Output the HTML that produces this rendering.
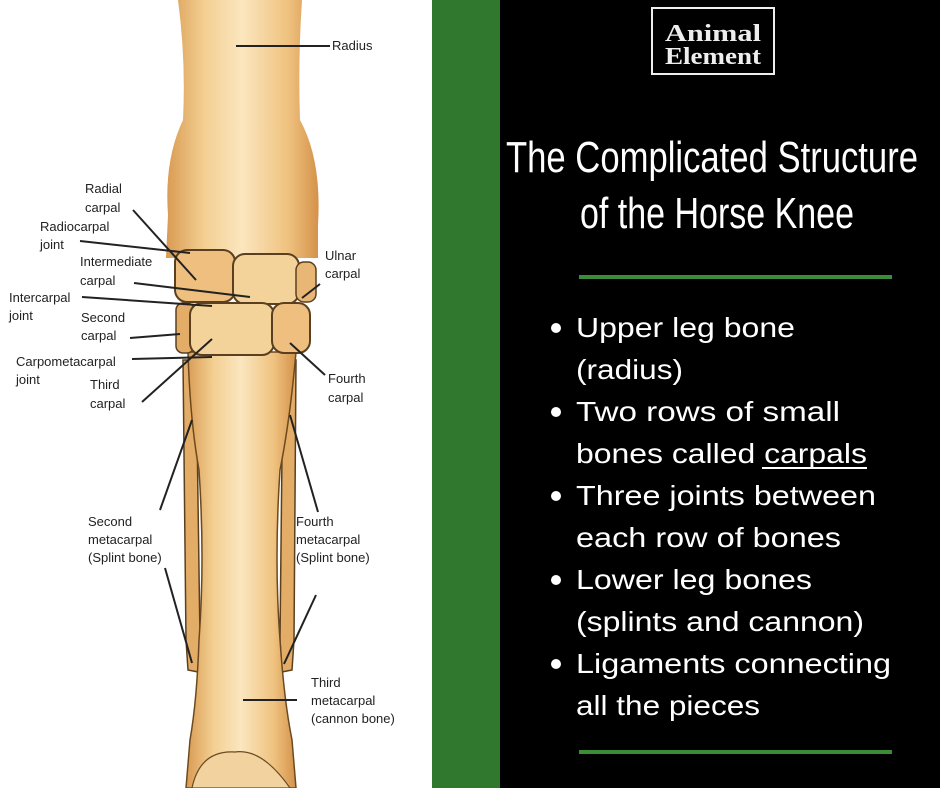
<!DOCTYPE html>
<html><head><meta charset="utf-8"><style>
html,body{margin:0;padding:0;width:940px;height:788px;overflow:hidden;background:#fff}
svg{display:block}
.l{font-family:"Liberation Sans",sans-serif;font-size:13px;fill:#222}
.t{font-family:"Liberation Sans",sans-serif;font-size:44px;fill:#fff}
.b{font-family:"Liberation Sans",sans-serif;font-size:28px;fill:#fff}
</style></head><body>
<svg width="940" height="788" viewBox="0 0 940 788" xmlns="http://www.w3.org/2000/svg">
<defs>
<linearGradient id="bone" x1="0" x2="1" y1="0" y2="0">
<stop offset="0" stop-color="#d99a52"/><stop offset="0.25" stop-color="#f3cf92"/>
<stop offset="0.5" stop-color="#fbe6bf"/><stop offset="0.8" stop-color="#efc27f"/>
<stop offset="1" stop-color="#d4924a"/></linearGradient>
</defs>
<rect x="0" y="0" width="432" height="788" fill="#fff"/>
<rect x="432" y="0" width="68" height="788" fill="#31782f"/>
<rect x="500" y="0" width="440" height="788" fill="#000"/>

<!-- splints -->
<path d="M183 360 L196 360 L200 640 L198 672 L188 670 L186 640 Z" fill="#e3ad68" stroke="#5a4020" stroke-width="1.5"/>
<path d="M296 360 L283 360 L280 640 L282 672 L292 670 L294 640 Z" fill="#e3ad68" stroke="#5a4020" stroke-width="1.5"/>
<!-- cannon -->
<path d="M188 352 L296 352 Q290 420 280 470 Q274 560 280 640 Q284 700 292 740 L296 788 L186 788 L190 740 Q197 700 199 640 Q205 560 199 470 Q190 420 188 352 Z" fill="url(#bone)" stroke="#6b4a20" stroke-width="1.5"/>
<path d="M192 788 Q200 750 235 752 Q262 748 290 788 Z" fill="#f2d3a0" stroke="#6b4a20" stroke-width="1.2"/>
<!-- radius -->
<path d="M178 0 L302 0 Q298 60 300 120 Q322 160 318 225 L318 258 L166 258 L168 215 Q164 160 183 120 Q186 60 178 0 Z" fill="url(#bone)"/>
<!-- carpals row 1 -->
<rect x="175" y="250" width="60" height="52" rx="12" fill="#eebf7e" stroke="#5a4020" stroke-width="2"/>
<rect x="233" y="254" width="66" height="50" rx="12" fill="#f4d39a" stroke="#5a4020" stroke-width="2"/>
<rect x="296" y="262" width="20" height="40" rx="8" fill="#e9b775" stroke="#5a4020" stroke-width="1.5"/>
<!-- carpals row 2 -->
<rect x="176" y="303" width="18" height="50" rx="7" fill="#e3ad68" stroke="#5a4020" stroke-width="1.5"/>
<rect x="190" y="303" width="84" height="52" rx="12" fill="#f4d39a" stroke="#5a4020" stroke-width="2"/>
<rect x="272" y="303" width="38" height="50" rx="12" fill="#eebf7e" stroke="#5a4020" stroke-width="2"/>

<!-- leader lines -->
<g stroke="#222" stroke-width="2" fill="none">
<line x1="236" y1="46" x2="330" y2="46"/>
<line x1="133" y1="210" x2="196" y2="280"/>
<line x1="80" y1="241" x2="190" y2="253"/>
<line x1="134" y1="283" x2="250" y2="297"/>
<line x1="82" y1="297" x2="212" y2="306"/>
<line x1="130" y1="338" x2="180" y2="334"/>
<line x1="132" y1="359" x2="212" y2="357"/>
<line x1="142" y1="402" x2="212" y2="339"/>
<line x1="320" y1="284" x2="302" y2="298"/>
<line x1="325" y1="375" x2="290" y2="343"/>
<line x1="160" y1="510" x2="192" y2="420"/>
<line x1="165" y1="568" x2="192" y2="663"/>
<line x1="318" y1="512" x2="290" y2="415"/>
<line x1="316" y1="595" x2="284" y2="664"/>
<line x1="243" y1="700" x2="297" y2="700"/>
</g>

<g class="l">
<text x="332" y="50">Radius</text>
<text x="85" y="193">Radial</text><text x="85" y="212">carpal</text>
<text x="40" y="231">Radiocarpal</text><text x="40" y="249">joint</text>
<text x="80" y="266">Intermediate</text><text x="80" y="285">carpal</text>
<text x="9" y="302">Intercarpal</text><text x="9" y="320">joint</text>
<text x="81" y="322">Second</text><text x="81" y="340">carpal</text>
<text x="16" y="366">Carpometacarpal</text><text x="16" y="384">joint</text>
<text x="90" y="389">Third</text><text x="90" y="408">carpal</text>
<text x="325" y="260">Ulnar</text><text x="325" y="278">carpal</text>
<text x="328" y="383">Fourth</text><text x="328" y="402">carpal</text>
<text x="88" y="526">Second</text><text x="88" y="544">metacarpal</text><text x="88" y="562">(Splint bone)</text>
<text x="296" y="526">Fourth</text><text x="296" y="544">metacarpal</text><text x="296" y="562">(Splint bone)</text>
<text x="311" y="687">Third</text><text x="311" y="705">metacarpal</text><text x="311" y="723">(cannon bone)</text>
</g>

<!-- logo -->
<rect x="652" y="8" width="122" height="66" fill="none" stroke="#eee" stroke-width="2"/>
<text x="713" y="41" text-anchor="middle" font-family="Liberation Serif,serif" font-weight="bold" font-size="24" fill="#eee" textLength="96" lengthAdjust="spacingAndGlyphs">Animal</text>
<text x="713" y="64" text-anchor="middle" font-family="Liberation Serif,serif" font-weight="bold" font-size="24" fill="#eee" textLength="96" lengthAdjust="spacingAndGlyphs">Element</text>

<text class="t" x="506" y="172" textLength="412" lengthAdjust="spacingAndGlyphs">The Complicated Structure</text>
<text class="t" x="580" y="228" textLength="274" lengthAdjust="spacingAndGlyphs">of the Horse Knee</text>
<rect x="579" y="275" width="313" height="4" fill="#3b8b39"/>

<g fill="#fff">
<circle cx="556" cy="328" r="5"/><circle cx="556" cy="412" r="5"/><circle cx="556" cy="496" r="5"/><circle cx="556" cy="580" r="5"/><circle cx="556" cy="664" r="5"/>
</g>
<g class="b">
<text x="576" y="337" textLength="219" lengthAdjust="spacingAndGlyphs">Upper leg bone</text>
<text x="576" y="379" textLength="107" lengthAdjust="spacingAndGlyphs">(radius)</text>
<text x="576" y="421" textLength="264" lengthAdjust="spacingAndGlyphs">Two rows of small</text>
<text x="576" y="463" textLength="291" lengthAdjust="spacingAndGlyphs">bones called carpals</text>
<text x="576" y="505" textLength="300" lengthAdjust="spacingAndGlyphs">Three joints between</text>
<text x="576" y="547" textLength="265" lengthAdjust="spacingAndGlyphs">each row of bones</text>
<text x="576" y="589" textLength="236" lengthAdjust="spacingAndGlyphs">Lower leg bones</text>
<text x="576" y="631" textLength="288" lengthAdjust="spacingAndGlyphs">(splints and cannon)</text>
<text x="576" y="673" textLength="315" lengthAdjust="spacingAndGlyphs">Ligaments connecting</text>
<text x="576" y="715" textLength="184" lengthAdjust="spacingAndGlyphs">all the pieces</text>
</g>
<rect x="762" y="467" width="105" height="2" fill="#fff"/>
<rect x="579" y="750" width="313" height="4" fill="#3b8b39"/>
</svg>
</body></html>
